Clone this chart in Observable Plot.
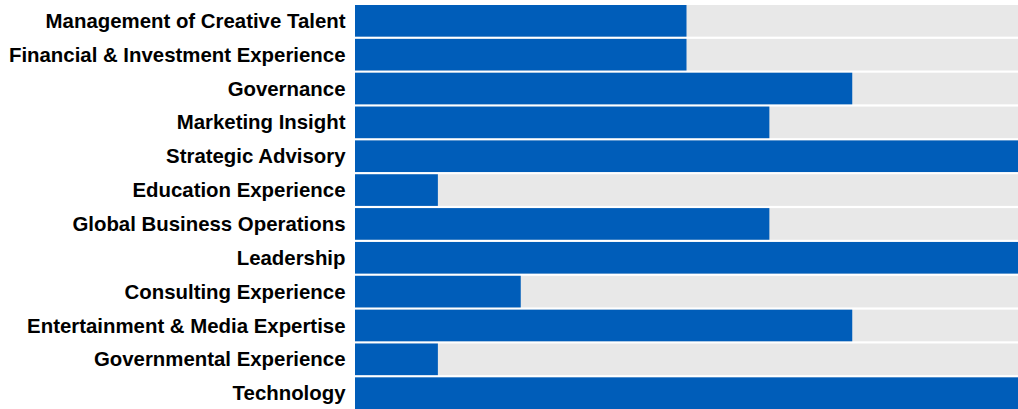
<!DOCTYPE html>
<html>
<head>
<meta charset="utf-8">
<script src="https://cdn.jsdelivr.net/npm/d3@7"></script>
<script src="https://cdn.jsdelivr.net/npm/@observablehq/plot@0.6"></script>
<style>
  html, body { margin: 0; padding: 0; background: #fff; }
  #chart svg { display: block; }
</style>
</head>
<body>
<div id="chart"></div>
<script>
const categories = [
  "Management of Creative Talent",
  "Financial & Investment Experience",
  "Governance",
  "Marketing Insight",
  "Strategic Advisory",
  "Education Experience",
  "Global Business Operations",
  "Leadership",
  "Consulting Experience",
  "Entertainment & Media Expertise",
  "Governmental Experience",
  "Technology"
];
const values = [4, 4, 6, 5, 8, 1, 5, 8, 2, 6, 1, 8];
const maxValue = 8;

const data = categories.map((c, i) => ({category: c, value: values[i], max: maxValue}));

const chart = Plot.plot({
  width: 1018,
  height: 409,
  marginLeft: 355,
  marginRight: 0,
  marginTop: 5,
  marginBottom: 0,
  style: {fontFamily: "Liberation Sans, Arial, sans-serif", fontSize: "20.4px", fontWeight: "bold", color: "#000", background: "#fff"},
  x: {domain: [0, maxValue], axis: null},
  y: {domain: categories, paddingInner: 0.065, paddingOuter: 0, round: false, label: null},
  marks: [
    Plot.barX(data, {y: "category", x: "max", fill: "#E8E8E8"}),
    Plot.barX(data, {y: "category", x: "value", fill: "#005DB9"}),
    Plot.axisY({tickSize: 0, tickPadding: 10, label: null, fontSize: 20.4, fontWeight: "bold"})
  ]
});
document.getElementById("chart").appendChild(chart);
</script>
</body>
</html>
